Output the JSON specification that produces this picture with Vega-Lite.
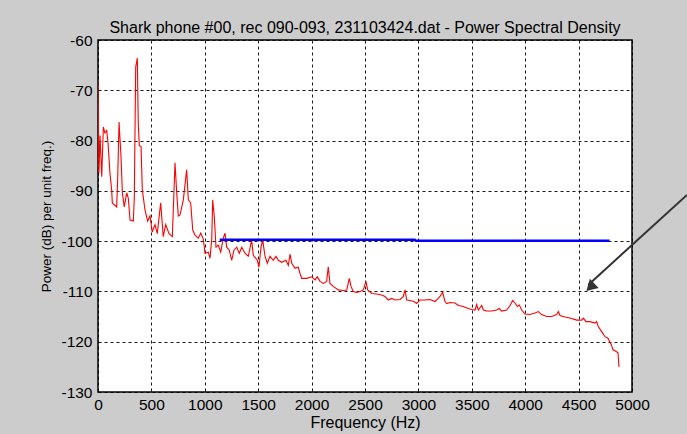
{
  "$schema": "https://vega.github.io/schema/vega-lite/v6.json",
  "autosize": {"type": "none"},
  "padding": {"left": 98, "top": 40, "right": 55, "bottom": 42},
  "width": 534,
  "height": 352,
  "background": "#cccccc",
  "title": {"text": "Shark phone #00, rec 090-093, 231103424.dat - Power Spectral Density", "font": "Liberation Sans", "fontSize": 16, "fontWeight": "normal", "color": "#000000", "anchor": "middle", "offset": -3},
  "config": {
    "view": {"fill": "white", "stroke": "black", "strokeWidth": 1.5},
    "axis": {"labelFont": "Liberation Sans", "labelFontSize": 15.5, "labelColor": "#000000", "labelFlush": false, "labelOverlap": false, "titleFont": "Liberation Sans", "titleFontSize": 16, "titleFontWeight": "normal", "titleColor": "#000000", "domain": false, "ticks": false, "grid": true, "gridColor": "#000000", "gridDash": [3, 3], "gridOpacity": 0.9, "gridWidth": 1}
  },
  "datasets": {
    "psd": [
      {"f":0,"p":-68.5},{"f":9,"p":-86.5},{"f":19,"p":-79},{"f":35,"p":-87.2},{"f":50,"p":-77.3},{"f":65,"p":-78.5},{"f":81,"p":-78},{"f":94,"p":-80.5},{"f":112,"p":-86.5},{"f":128,"p":-89.8},{"f":134,"p":-92.4},{"f":175,"p":-93.2},{"f":184,"p":-87.8},{"f":197,"p":-76.3},{"f":215,"p":-83},{"f":228,"p":-90.4},{"f":246,"p":-93.2},{"f":269,"p":-90.4},{"f":284,"p":-91.5},{"f":300,"p":-95.8},{"f":331,"p":-96},{"f":340,"p":-91.2},{"f":353,"p":-65.4},{"f":368,"p":-63.6},{"f":377,"p":-76.6},{"f":387,"p":-81},{"f":403,"p":-81.2},{"f":415,"p":-89.8},{"f":440,"p":-93.8},{"f":465,"p":-96},{"f":487,"p":-95},{"f":508,"p":-98.2},{"f":534,"p":-96.7},{"f":555,"p":-98.5},{"f":587,"p":-92.4},{"f":611,"p":-99.1},{"f":634,"p":-96.7},{"f":665,"p":-98.5},{"f":696,"p":-99.1},{"f":721,"p":-84.4},{"f":737,"p":-90.4},{"f":752,"p":-95},{"f":768,"p":-94.8},{"f":799,"p":-91.8},{"f":830,"p":-85.8},{"f":846,"p":-91.8},{"f":868,"p":-92.4},{"f":887,"p":-97.8},{"f":908,"p":-98.8},{"f":939,"p":-99.4},{"f":962,"p":-98.4},{"f":986,"p":-99.6},{"f":1002,"p":-102.4},{"f":1033,"p":-102.2},{"f":1049,"p":-103.4},{"f":1065,"p":-99.6},{"f":1074,"p":-91.8},{"f":1089,"p":-95.2},{"f":1105,"p":-101.2},{"f":1126,"p":-100.8},{"f":1149,"p":-102.2},{"f":1173,"p":-99.4},{"f":1189,"p":-98.4},{"f":1205,"p":-101.2},{"f":1229,"p":-101.8},{"f":1252,"p":-103.8},{"f":1273,"p":-101.8},{"f":1299,"p":-101.2},{"f":1323,"p":-102.4},{"f":1346,"p":-101.2},{"f":1376,"p":-102.4},{"f":1407,"p":-103},{"f":1439,"p":-99.8},{"f":1454,"p":-102.8},{"f":1492,"p":-103.8},{"f":1507,"p":-105.2},{"f":1526,"p":-101.2},{"f":1542,"p":-99.8},{"f":1564,"p":-103},{"f":1585,"p":-104.4},{"f":1610,"p":-103},{"f":1641,"p":-103.8},{"f":1667,"p":-103},{"f":1688,"p":-103.8},{"f":1720,"p":-104.2},{"f":1760,"p":-103.8},{"f":1782,"p":-104.8},{"f":1798,"p":-102.6},{"f":1814,"p":-104.4},{"f":1845,"p":-105.4},{"f":1875,"p":-105.2},{"f":1891,"p":-106.4},{"f":1907,"p":-107.4},{"f":1954,"p":-107.4},{"f":2001,"p":-107.1},{"f":2032,"p":-107.7},{"f":2053,"p":-107.1},{"f":2079,"p":-108},{"f":2110,"p":-108.4},{"f":2141,"p":-108},{"f":2156,"p":-105.1},{"f":2172,"p":-108.4},{"f":2203,"p":-109},{"f":2250,"p":-109.7},{"f":2297,"p":-109.8},{"f":2329,"p":-109.7},{"f":2353,"p":-107.4},{"f":2369,"p":-109},{"f":2390,"p":-110},{"f":2422,"p":-110.2},{"f":2453,"p":-110},{"f":2484,"p":-109.7},{"f":2509,"p":-108},{"f":2525,"p":-109.7},{"f":2563,"p":-110.4},{"f":2609,"p":-110.5},{"f":2656,"p":-110.7},{"f":2687,"p":-111},{"f":2718,"p":-111.7},{"f":2750,"p":-111.4},{"f":2781,"p":-111.7},{"f":2828,"p":-111.6},{"f":2859,"p":-111},{"f":2875,"p":-109.7},{"f":2890,"p":-111.7},{"f":2921,"p":-111.8},{"f":2959,"p":-112},{"f":2984,"p":-112.4},{"f":3015,"p":-111.7},{"f":3062,"p":-111.7},{"f":3109,"p":-111.6},{"f":3155,"p":-112},{"f":3186,"p":-111.4},{"f":3202,"p":-111},{"f":3227,"p":-110.2},{"f":3249,"p":-112},{"f":3265,"p":-112.4},{"f":3296,"p":-112.2},{"f":3343,"p":-112.3},{"f":3374,"p":-112.8},{"f":3420,"p":-113},{"f":3467,"p":-113.4},{"f":3499,"p":-113.6},{"f":3530,"p":-113.7},{"f":3546,"p":-112.6},{"f":3561,"p":-113.7},{"f":3593,"p":-112.8},{"f":3608,"p":-113.7},{"f":3640,"p":-113.9},{"f":3686,"p":-113.9},{"f":3733,"p":-113.7},{"f":3757,"p":-113.4},{"f":3780,"p":-113.9},{"f":3827,"p":-113.7},{"f":3858,"p":-112.8},{"f":3883,"p":-111.8},{"f":3904,"p":-112.3},{"f":3926,"p":-113},{"f":3945,"p":-112.7},{"f":3967,"p":-113.7},{"f":3998,"p":-114.5},{"f":4045,"p":-114.6},{"f":4092,"p":-114.3},{"f":4123,"p":-114},{"f":4154,"p":-114.6},{"f":4201,"p":-115},{"f":4248,"p":-115},{"f":4295,"p":-114.6},{"f":4310,"p":-114},{"f":4326,"p":-114.8},{"f":4373,"p":-115.1},{"f":4419,"p":-115.3},{"f":4482,"p":-115.7},{"f":4529,"p":-115.7},{"f":4544,"p":-115.3},{"f":4569,"p":-116},{"f":4607,"p":-116},{"f":4654,"p":-116.3},{"f":4669,"p":-116},{"f":4684,"p":-117},{"f":4716,"p":-118},{"f":4747,"p":-119},{"f":4775,"p":-119.3},{"f":4806,"p":-120.6},{"f":4822,"p":-121.6},{"f":4856,"p":-122},{"f":4869,"p":-122.2},{"f":4878,"p":-125}
    ],
    "ref": [
      {"f":1140,"p":-99.7},{"f":2965,"p":-99.7},{"f":2975,"p":-99.9},{"f":4790,"p":-99.9}
    ],
    "arrow": [
      {"x1":5515,"y1":-90.8,"x2":4590,"y2":-108.7}
    ],
    "head": [
      {"x":4622,"y":-108.9}
    ]
  },
  "layer": [
    {
      "data": {"name": "psd"},
      "mark": {"type": "line", "color": "#ff0000", "strokeWidth": 1.1, "clip": true},
      "encoding": {
        "x": {"field": "f", "type": "quantitative", "scale": {"domain": [0, 5000], "nice": false, "zero": false},
          "axis": {"values": [0,500,1000,1500,2000,2500,3000,3500,4000,4500,5000], "labelExpr": "'' + datum.value", "title": "Frequency (Hz)", "labelPadding": 5, "titlePadding": 2}},
        "y": {"field": "p", "type": "quantitative", "scale": {"domain": [-130, -60], "nice": false, "zero": false},
          "axis": {"values": [-130,-120,-110,-100,-90,-80,-70,-60], "labelExpr": "'' + datum.value", "title": "Power (dB) per unit freq.)", "titleFontSize": 13.5, "labelPadding": 6, "titlePadding": 7}}
      }
    },
    {
      "data": {"name": "ref"},
      "mark": {"type": "line", "color": "#0000ff", "strokeWidth": 2.5},
      "encoding": {
        "x": {"field": "f", "type": "quantitative"},
        "y": {"field": "p", "type": "quantitative"}
      }
    },
    {
      "data": {"name": "arrow"},
      "mark": {"type": "rule", "color": "#333333", "strokeWidth": 2},
      "encoding": {
        "x": {"field": "x1", "type": "quantitative"},
        "x2": {"field": "x2"},
        "y": {"field": "y1", "type": "quantitative"},
        "y2": {"field": "y2"}
      }
    },
    {
      "data": {"name": "head"},
      "mark": {"type": "point", "shape": "triangle", "filled": true, "color": "#333333", "opacity": 1, "size": 160, "angle": 226},
      "encoding": {
        "x": {"field": "x", "type": "quantitative"},
        "y": {"field": "y", "type": "quantitative"}
      }
    }
  ]
}
